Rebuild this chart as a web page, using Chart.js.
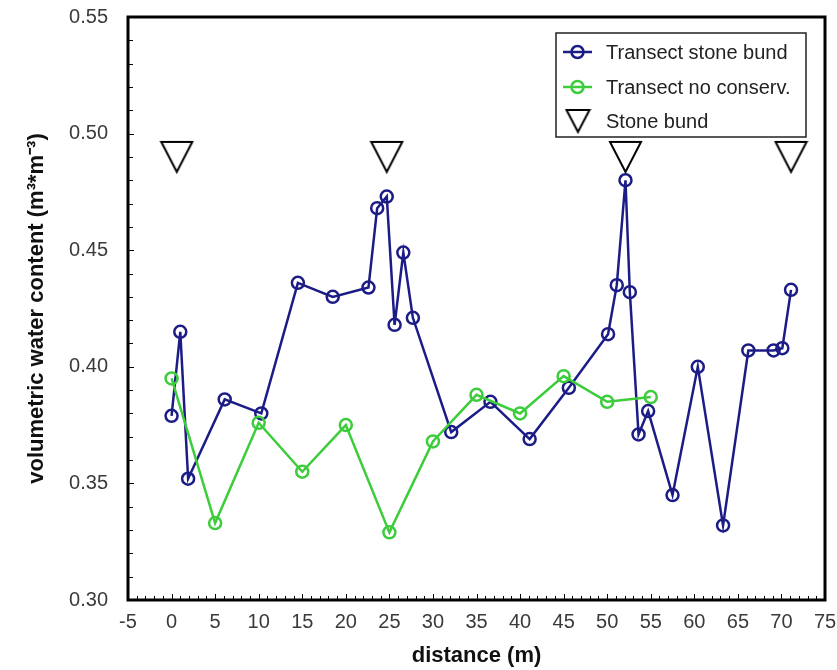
<!DOCTYPE html>
<html>
<head>
<meta charset="utf-8">
<script src="https://cdn.jsdelivr.net/npm/chart.js@4.4.1/dist/chart.umd.min.js"></script>
<style>
  html, body { margin: 0; padding: 0; background: #fff; }
</style>
</head>
<body>
<canvas id="graficoUmidade" width="837" height="670"></canvas>
<script>
// distancias (m) e umidade volumetrica
const distStoneBund = [0, 1.0, 1.9, 6.1, 10.3, 14.5, 18.5, 22.6, 23.6, 24.7, 25.6, 26.6, 27.7, 32.1, 36.6, 41.1, 45.6, 50.1, 51.1, 52.1, 52.6, 53.6, 54.7, 57.5, 60.4, 63.3, 66.2, 69.1, 70.1, 71.1];
const umidStoneBund = [0.379, 0.415, 0.352, 0.386, 0.380, 0.436, 0.430, 0.434, 0.468, 0.473, 0.418, 0.449, 0.421, 0.372, 0.385, 0.369, 0.391, 0.414, 0.435, 0.480, 0.432, 0.371, 0.381, 0.345, 0.400, 0.332, 0.407, 0.407, 0.408, 0.433];

const distNoConserv = [0, 5, 10, 15, 20, 25, 30, 35, 40, 45, 50, 55];
const umidNoConserv = [0.395, 0.333, 0.376, 0.355, 0.375, 0.329, 0.368, 0.388, 0.380, 0.396, 0.385, 0.387];

// posicao dos cordoes de pedra (marcadores triangulares)
const distBund = [0.6, 24.7, 52.1, 71.1];
const nivelBund = [0.49, 0.49, 0.49, 0.49];

const ticksX = [-5, 0, 5, 10, 15, 20, 25, 30, 35, 40, 45, 50, 55, 60, 65, 70, 75];
const ticksY = [0.30, 0.35, 0.40, 0.45, 0.50, 0.55];

const nomes = ['Transect stone bund', 'Transect no conserv.', 'Stone bund'];
const corAzul = '#1c1c86';
const corVerde = '#3ccc3c';

Chart.defaults.font.family = "'Liberation Sans', Arial, sans-serif";

// triangulo de ponta para baixo desenhado num canvas, usado como pointStyle
function criaTriangulo(w, h, lw) {
  const c = document.createElement('canvas');
  c.width = w;
  c.height = h;
  const ctx = c.getContext('2d');
  ctx.strokeStyle = '#000';
  ctx.lineWidth = lw;
  ctx.beginPath();
  ctx.moveTo(lw, lw);
  ctx.lineTo(w - lw, lw);
  ctx.lineTo(w / 2, h - lw);
  ctx.closePath();
  ctx.stroke();
  return c;
}
const trianguloGrande = criaTriangulo(35, 34, 2);
const trianguloLegenda = criaTriangulo(27, 26, 2);

function juntaPontos(xs, ys) {
  return xs.map((x, i) => ({ x: x, y: ys[i] }));
}

// moldura, tracos internos e legenda dentro da area do grafico
const molduraLegenda = {
  id: 'molduraLegenda',
  afterDraw(chart) {
    const ctx = chart.ctx;
    const area = chart.chartArea;
    const sx = chart.scales.x;
    const sy = chart.scales.y;
    ctx.save();

    ctx.strokeStyle = '#000';
    ctx.lineWidth = 1;
    ctx.beginPath();
    for (let v = -5; v <= 75; v++) {
      const px = Math.round(sx.getPixelForValue(v)) + 0.5;
      const len = v % 5 === 0 ? 6 : 4;
      ctx.moveTo(px, area.bottom);
      ctx.lineTo(px, area.bottom - len);
    }
    for (let k = 30; k <= 55; k++) {
      const py = Math.round(sy.getPixelForValue(k / 100)) + 0.5;
      const len = k % 5 === 0 ? 6 : 5;
      ctx.moveTo(area.left, py);
      ctx.lineTo(area.left + len, py);
    }
    ctx.stroke();

    ctx.lineWidth = 3;
    ctx.strokeRect(area.left, area.top, area.right - area.left, area.bottom - area.top);

    // legenda
    const bx = 556, by = 33, bw = 250, bh = 104;
    ctx.fillStyle = '#fff';
    ctx.fillRect(bx, by, bw, bh);
    ctx.lineWidth = 1.5;
    ctx.strokeStyle = '#222';
    ctx.strokeRect(bx, by, bw, bh);

    const linhas = [52, 87, 121];
    const cores = [corAzul, corVerde];
    ctx.font = "20px 'Liberation Sans', Arial, sans-serif";
    ctx.textBaseline = 'middle';
    for (let i = 0; i < 3; i++) {
      const y = linhas[i];
      if (i < 2) {
        ctx.strokeStyle = cores[i];
        ctx.lineWidth = 2.5;
        ctx.beginPath();
        ctx.moveTo(563, y);
        ctx.lineTo(592, y);
        ctx.stroke();
        ctx.beginPath();
        ctx.arc(577.5, y, 6, 0, Math.PI * 2);
        ctx.stroke();
      } else {
        ctx.drawImage(trianguloLegenda, 578 - 13.5, y - 13);
      }
      ctx.fillStyle = '#222';
      ctx.fillText(nomes[i], 606, y + 1);
    }
    ctx.restore();
  }
};

const grafico = new Chart(document.getElementById('graficoUmidade'), {
  type: 'scatter',
  data: {
    datasets: [
      {
        label: nomes[0],
        data: juntaPontos(distStoneBund, umidStoneBund),
        showLine: true,
        borderColor: corAzul,
        borderWidth: 2.5,
        backgroundColor: 'transparent',
        pointBorderColor: corAzul,
        pointBorderWidth: 2.5,
        pointRadius: 6,
        order: 2
      },
      {
        label: nomes[1],
        data: juntaPontos(distNoConserv, umidNoConserv),
        showLine: true,
        borderColor: corVerde,
        borderWidth: 2.5,
        backgroundColor: 'transparent',
        pointBorderColor: corVerde,
        pointBorderWidth: 2.5,
        pointRadius: 6,
        order: 1
      },
      {
        label: nomes[2],
        data: juntaPontos(distBund, nivelBund),
        showLine: false,
        pointStyle: trianguloGrande,
        order: 0
      }
    ]
  },
  options: {
    responsive: false,
    animation: false,
    layout: { padding: { top: 17, right: 12, left: 0, bottom: 0 } },
    plugins: {
      legend: { display: false },
      tooltip: { enabled: false }
    },
    scales: {
      x: {
        type: 'linear',
        min: -5,
        max: 75,
        afterBuildTicks: (s) => { s.ticks = ticksX.map(v => ({ value: v })); },
        afterFit: (s) => { s.height = 70; s.paddingLeft = 0; s.paddingRight = 0; },
        grid: { display: false, drawTicks: false },
        border: { display: false },
        ticks: { padding: 10, color: '#3a3a3a', font: { size: 20 }, maxRotation: 0 },
        title: {
          display: true,
          text: 'distance (m)',
          color: '#111',
          font: { size: 22, weight: 'bold' },
          padding: { top: 0, bottom: 1 }
        }
      },
      y: {
        min: 0.30,
        max: 0.55,
        afterBuildTicks: (s) => { s.ticks = ticksY.map(v => ({ value: v })); },
        afterFit: (s) => { s.width = 128; s.paddingTop = 0; s.paddingBottom = 0; },
        grid: { display: false, drawTicks: false },
        border: { display: false },
        ticks: {
          padding: 20,
          color: '#3a3a3a',
          font: { size: 20 },
          callback: (v) => Number(v).toFixed(2)
        },
        title: {
          display: true,
          text: 'volumetric water content (m³*m⁻³)',
          color: '#111',
          font: { size: 22, weight: 'bold' },
          padding: { top: 24, bottom: 0 }
        }
      }
    }
  },
  plugins: [molduraLegenda]
});
</script>
</body>
</html>
